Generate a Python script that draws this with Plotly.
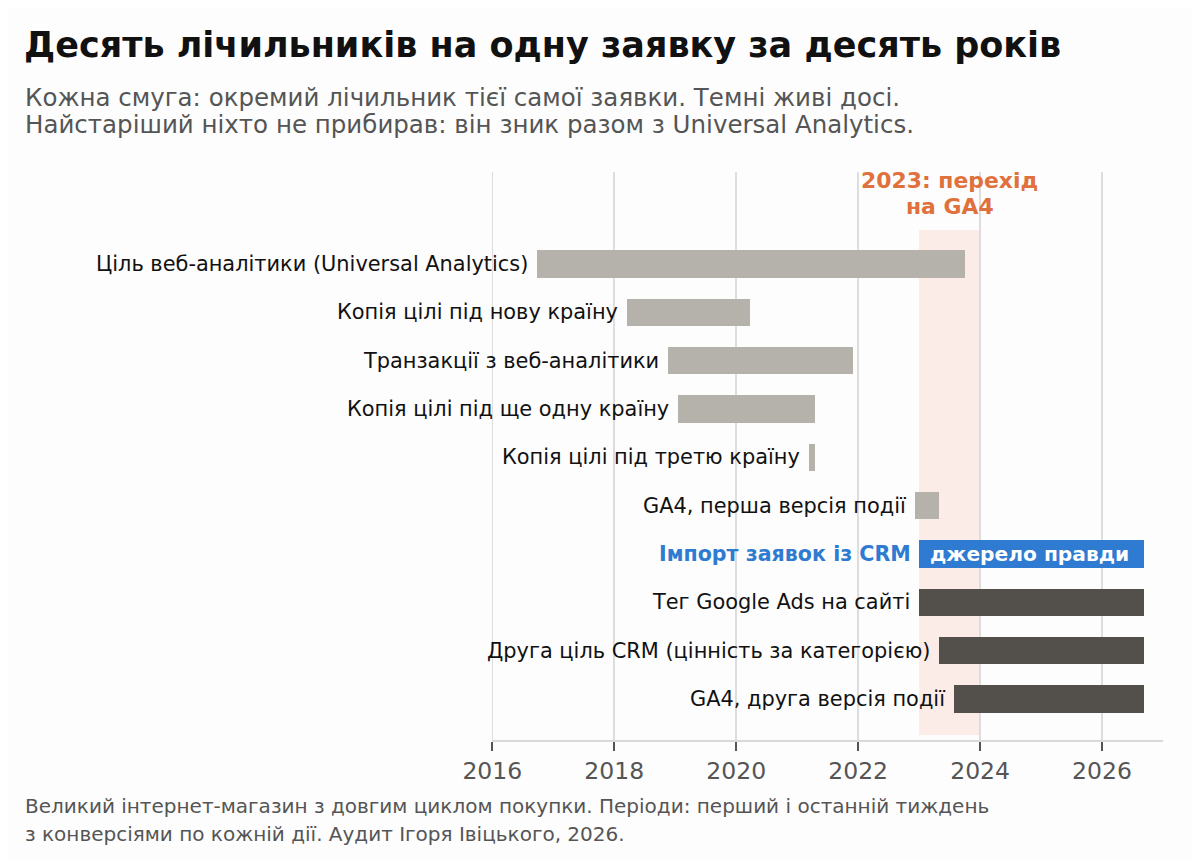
import plotly.graph_objects as go

labels = [
    "Ціль веб-аналітики (Universal Analytics)",
    "Копія цілі під нову країну",
    "Транзакції з веб-аналітики",
    "Копія цілі під ще одну країну",
    "Копія цілі під третю країну",
    "GA4, перша версія події",
    "Імпорт заявок із CRM",
    "Тег Google Ads на сайті",
    "Друга ціль CRM (цінність за категорією)",
    "GA4, друга версія події",
]
starts = [2016.74, 2018.21, 2018.88, 2019.04, 2021.19, 2022.94, 2022.99, 2023.00, 2023.33, 2023.58]
ends = [2023.76, 2020.22, 2021.91, 2021.30, 2021.30, 2023.32, 2026.69, 2026.69, 2026.69, 2026.69]
status = ["old", "old", "old", "old", "old", "old", "truth", "live", "live", "live"]
tick_years = [2016, 2018, 2020, 2022, 2024, 2026]
migration = (2023, 2024)
title_text = "Десять лічильників на одну заявку за десять років"
subtitle_lines = [
    "Кожна смуга: окремий лічильник тієї самої заявки. Темні живі досі.",
    "Найстаріший ніхто не прибирав: він зник разом з Universal Analytics.",
]
footer_lines = [
    "Великий інтернет-магазин з довгим циклом покупки. Періоди: перший і останній тиждень",
    "з конверсіями по кожній дії. Аудит Ігоря Івіцького, 2026.",
]
migration_lines = ["2023: перехід", "на GA4"]
truth_text = "джерело правди"

GRAY = "#b5b1ab"
DARK = "#53504c"
BLUE = "#2f7bd1"
ORANGE = "#e0703c"
SHADE = "#fbece7"
BG = "#fdfdfd"
GRID = "#dddddd"
FONT = "DejaVu Sans"

colors = {"old": GRAY, "live": DARK, "truth": BLUE}
ys = list(range(len(labels)))

fig = go.Figure()
fig.add_trace(go.Bar(
    y=ys,
    x=[e - s for s, e in zip(starts, ends)],
    base=starts,
    orientation="h",
    width=0.56,
    marker=dict(color=[colors[s] for s in status], line=dict(width=0)),
    hoverinfo="skip",
    showlegend=False,
))

W, H = 1200, 860
OFF = 8  # page offset of the figure in the browser
L, R, T, B = 484, 45, 164, 128
pw, ph = W - L - R, H - T - B


def px(xp):
    return (xp - OFF - L) / pw


def py(yp):
    return (H - B - (yp - OFF)) / ph


annotations = []
for i, (lab, s, st) in enumerate(zip(labels, starts, status)):
    if st == "truth":
        annotations.append(dict(x=s, y=i, xref="x", yref="y", text="<b>" + lab + "</b>",
                                xanchor="right", yanchor="middle", xshift=-6, showarrow=False,
                                font=dict(family=FONT, size=20.6, color=BLUE)))
        annotations.append(dict(x=s, y=i, xref="x", yref="y", text="<b>" + truth_text + "</b>",
                                xanchor="left", yanchor="middle", xshift=9, showarrow=False,
                                font=dict(family=FONT, size=20.2, color="white")))
    else:
        annotations.append(dict(x=s, y=i, xref="x", yref="y", text=lab,
                                xanchor="right", yanchor="middle", xshift=-7, showarrow=False,
                                font=dict(family=FONT, size=20.9, color="#111111")))

for line, yy in zip(migration_lines, [180, 206]):
    annotations.append(dict(x=(migration[0] + migration[1]) / 2, y=py(yy), xref="x", yref="paper",
                            text="<b>" + line + "</b>", xanchor="center", yanchor="middle",
                            showarrow=False, font=dict(family=FONT, size=21.9, color=ORANGE)))
for line, yy in zip(subtitle_lines, [97, 125]):
    annotations.append(dict(x=px(23), y=py(yy), xref="paper", yref="paper", text=line,
                            xanchor="left", yanchor="middle", showarrow=False,
                            font=dict(family=FONT, size=24.5, color="#555555")))
for line, yy in zip(footer_lines, [806, 834]):
    annotations.append(dict(x=px(23), y=py(yy), xref="paper", yref="paper", text=line,
                            xanchor="left", yanchor="middle", showarrow=False,
                            font=dict(family=FONT, size=20, color="#555555")))

shapes = [
    dict(type="line", xref="x", yref="paper", x0=tick_years[0], x1=tick_years[0],
         y0=0, y1=1, line=dict(color=GRID, width=1.5), layer="below"),
    dict(type="rect", xref="x", yref="paper", x0=migration[0], x1=migration[1],
         y0=py(735), y1=py(230), fillcolor=SHADE, line=dict(width=0), layer="below"),
]

fig.update_layout(
    width=W, height=H,
    margin=dict(l=L, r=R, t=T, b=B, pad=0),
    paper_bgcolor=BG, plot_bgcolor=BG,
    font=dict(family=FONT, color="#111111"),
    title=dict(text="<b>" + title_text + "</b>",
               xref="container", yref="container", x=(24 - OFF) / W, xanchor="left",
               y=1 - (45 - OFF) / H, yanchor="middle",
               font=dict(family=FONT, size=35, color="#111111")),
    xaxis=dict(range=[2015.995, 2027], tickvals=tick_years, ticktext=[str(t) for t in tick_years],
               showgrid=True, gridcolor=GRID, gridwidth=1.5, zeroline=False,
               showline=True, linecolor="#d9d9d9", linewidth=2,
               ticks="outside", ticklen=9, tickwidth=2, tickcolor="#555555",
               tickfont=dict(family=FONT, size=23.5, color="#555555")),
    yaxis=dict(range=[9.848, -1.904], showticklabels=False, showgrid=False, zeroline=False,
               showline=False, ticks=""),
    annotations=annotations,
    shapes=shapes,
    bargap=0,
)

fig.write_html("out.html")
